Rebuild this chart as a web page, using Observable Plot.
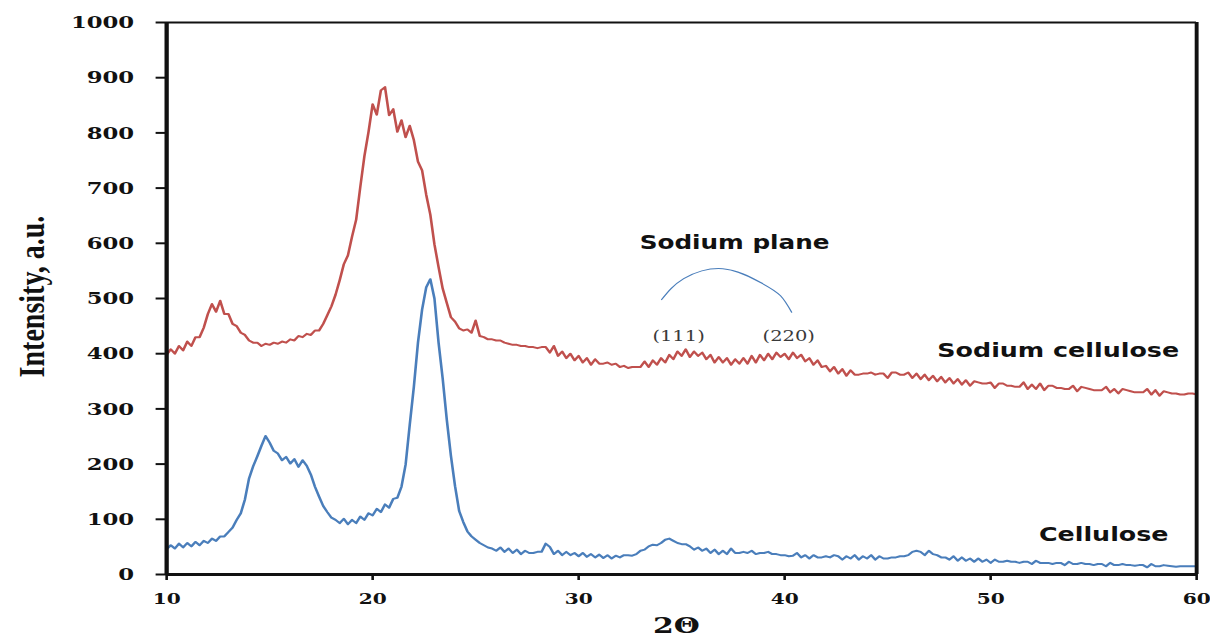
<!DOCTYPE html>
<html>
<head>
<meta charset="utf-8">
<script src="https://cdn.jsdelivr.net/npm/d3@7"></script>
<script src="https://cdn.jsdelivr.net/npm/@observablehq/plot@0.6"></script>
<style>body{margin:0;background:#fff}#chart{width:1210px;height:643px;overflow:hidden}</style>
</head>
<body>
<div id="chart"></div>
<script>
// ---- data (2θ grid from 10° to 60° in 0.2° steps) ----
const angleStart = 10;
const angleStep = 0.2;

const sodiumCellulose = [
  398,408,400,414,406,422,414,430,430,447,
  472,490,476,496,472,472,454,450,438,434,
  424,420,420,414,418,416,420,418,422,420,
  426,424,432,430,436,434,442,442,454,470,
  486,507,533,562,578,612,643,702,758,802,
  852,833,877,883,832,843,802,823,792,813,
  787,748,732,688,652,598,557,518,492,466,
  458,446,442,444,438,460,432,430,426,426,
  424,424,420,418,416,416,414,414,412,412,
  410,412,412,402,414,396,404,392,400,388,
  396,384,392,380,390,382,382,384,380,382,
  376,378,374,376,376,376,386,376,388,380,
  392,384,398,390,404,396,408,394,404,396,
  402,390,398,384,394,384,392,380,390,382,
  392,382,396,384,398,388,400,390,402,394,
  400,390,402,392,398,386,392,380,388,376,
  378,368,376,364,372,360,370,362,362,364,
  364,366,362,364,364,356,366,366,362,362,
  366,356,364,354,362,352,360,350,358,348,
  356,346,354,344,352,342,350,348,346,346,
  348,338,346,346,342,342,340,340,348,336,
  344,336,346,334,342,342,338,338,336,336,
  342,332,340,338,336,334,334,334,340,330,
  336,328,336,334,332,330,330,330,336,326,
  334,324,332,330,328,328,326,326,328,328,
  326
];

const cellulose = [
  46,53,47,56,49,57,51,59,53,61,
  57,65,61,69,69,77,85,99,111,136,
  174,196,214,233,251,239,224,219,207,213,
  201,209,195,207,197,181,159,141,124,113,
  103,99,93,101,91,99,93,105,99,111,
  107,119,113,127,121,137,139,159,199,271,
  340,420,480,520,535,500,420,355,280,215,
  160,115,95,78,69,63,57,53,49,47,
  43,49,41,47,39,45,37,43,39,39,
  41,41,56,50,37,43,35,41,35,39,
  33,39,32,37,31,36,30,35,29,34,
  31,35,35,34,37,43,45,51,54,53,
  57,63,65,61,57,55,55,51,45,49,
  43,47,39,45,37,43,37,47,39,39,
  41,39,43,37,39,39,41,37,37,35,
  35,33,34,39,31,35,29,35,31,31,
  33,31,35,33,27,33,29,35,27,33,
  29,35,27,33,29,29,31,31,33,33,
  35,41,43,41,35,43,37,35,31,31,
  27,33,25,31,25,29,23,29,23,27,
  21,27,23,23,25,23,23,21,23,23,
  19,25,21,21,21,19,21,21,17,23,
  19,19,21,19,19,17,19,19,15,21,
  17,17,19,17,17,16,17,17,13,19,
  15,15,17,16,15,14,15,15,15,15,
  15
];

const seriesNames = ["Sodium cellulose", "Cellulose"];
const xTicks = [10, 20, 30, 40, 50, 60];
const yTicks = [0, 100, 200, 300, 400, 500, 600, 700, 800, 900, 1000];
const xDomain = [10, 60];
const yDomain = [0, 1000];
const xLabel = "2\u0398";
const yLabel = "Intensity, a.u.";

// annotation: arc spanning the sodium planes
const arcX = [34.03, 35.1, 37.0, 38.83, 39.8, 40.34];
const arcY = [498, 536, 554, 529, 505, 475];
const planeNames = ["(111)", "(220)"];
const planeX = [34.85, 40.2];

// ---- build ----
const S = 1210 / 931;   // horizontal stretch of the original figure
const W = 931;

const toRows = (vals, name) => vals.map((v, i) => ({
  angle: +(angleStart + i * angleStep).toFixed(1), value: v, series: name
}));
const redRows = toRows(sodiumCellulose, seriesNames[0]);
const blueRows = toRows(cellulose, seriesNames[1]);
const arcRows = arcX.map((x, i) => ({x, y: arcY[i]}));
const planeRows = planeNames.map((n, i) => ({label: n, x: planeX[i]}));

const serif = "DejaVu Serif";
const sans = "DejaVu Sans";

const plot = Plot.plot({
  width: W,
  height: 643,
  marginLeft: 166 / S,
  marginRight: 14 / S,
  marginTop: 22,
  marginBottom: 69,
  x: {domain: xDomain},
  y: {domain: yDomain},
  style: {background: "white", overflow: "visible", color: "#111"},
  marks: [
    Plot.axisY({ticks: yTicks, tickFormat: d => String(d), tickSize: 8, tickPadding: 17, strokeWidth: 2,
      fontSize: 17.5, fontFamily: serif, fontWeight: "bold", label: null}),
    Plot.axisX({ticks: xTicks, tickFormat: d => String(d), tickSize: 6, tickPadding: 12, strokeWidth: 2,
      fontSize: 15.5, fontFamily: serif, fontWeight: "bold", label: null}),
    Plot.line(redRows, {x: "angle", y: "value", stroke: "#c0504d", strokeWidth: 2}),
    Plot.line(blueRows, {x: "angle", y: "value", stroke: "#4a7ebb", strokeWidth: 2}),
    Plot.ruleX([xDomain[0]], {stroke: "#111", strokeWidth: 3.3}),
    Plot.ruleX([xDomain[1]], {stroke: "#111", strokeWidth: 3}),
    Plot.ruleY([yDomain[0]], {stroke: "#111", strokeWidth: 3}),
    Plot.ruleY([yDomain[1]], {stroke: "#111", strokeWidth: 2}),
    Plot.line(arcRows, {x: "x", y: "y", curve: "natural", stroke: "#4a7ebb", strokeWidth: 1}),
    Plot.text(["Sodium plane"], {text: d => d, x: 37.57, y: 601, fontFamily: sans, fontWeight: "bold", fontSize: 19, fill: "#111"}),
    Plot.text(planeRows, {text: "label", x: "x", y: 431, fontFamily: serif, fontSize: 15, fill: "#3a3a3a"}),
    Plot.text([seriesNames[0]], {text: d => d, x: 53.28, y: 406, fontFamily: sans, fontWeight: "bold", fontSize: 19.5, fill: "#111"}),
    Plot.text([seriesNames[1]], {text: d => d, x: 55.49, y: 71.6, fontFamily: sans, fontWeight: "bold", fontSize: 19.5, fill: "#111"}),
    Plot.text([yLabel], {text: d => d, frameAnchor: "left", textAnchor: "middle", rotate: -90, dx: -103, dy: -2,
      fontFamily: "Liberation Serif", fontWeight: "bold", fontSize: 28, fill: "#111"}),
    Plot.text([xLabel], {text: d => d, frameAnchor: "bottom", textAnchor: "middle", lineAnchor: "bottom", dx: -4, dy: 58,
      fontFamily: serif, fontWeight: "bold", fontSize: 23, fill: "#111"})
  ]
});

plot.setAttribute("width", 1210);
plot.setAttribute("height", 643);
plot.setAttribute("preserveAspectRatio", "none");
plot.style.maxWidth = "none";
plot.style.width = "1210px";
plot.style.height = "643px";
document.getElementById("chart").appendChild(plot);
</script>
</body>
</html>
